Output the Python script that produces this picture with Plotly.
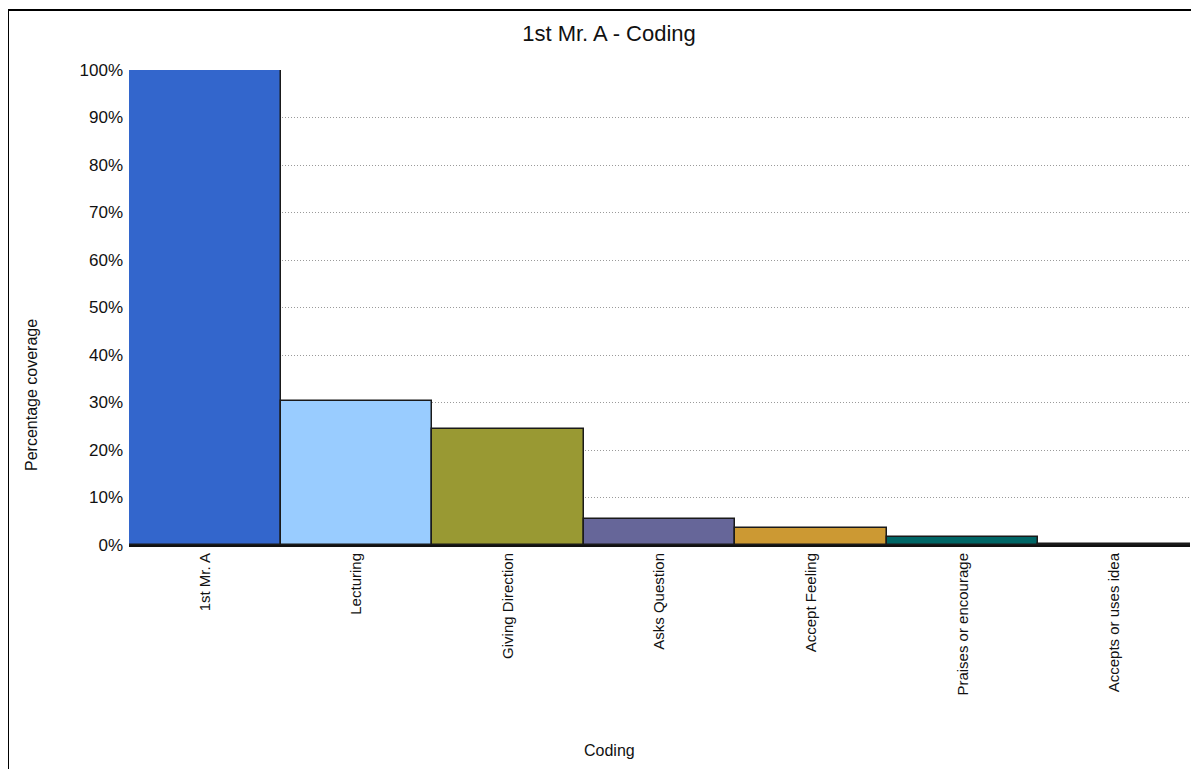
import plotly.graph_objects as go

categories = ["1st Mr. A", "Lecturing", "Giving Direction", "Asks Question",
              "Accept Feeling", "Praises or encourage", "Accepts or uses idea"]
values = [100, 30.4, 24.4, 5.4, 3.5, 1.7, 0.3]
colors = ["#3366CC", "#99CCFF", "#999933", "#666699", "#CC9933", "#006666", "#663300"]
tick_vals = list(range(0, 101, 10))
tick_text = [f"{v}%" for v in tick_vals]

# page body has an 8px margin in the browser
OFF = 8
# desired screen positions of the plot area
SL, SR, ST, SB = 129, 1190, 70, 545
W = SR + 9 - OFF
H = 769 - OFF
L = SL - OFF
T = ST - OFF
R = W - (SR - OFF)
B = H - (SB - OFF)
pw, ph = SR - SL, SB - ST


def px(x):
    return (x - SL) / pw


def py(y):
    return (SB - y) / ph


fig = go.Figure(go.Bar(
    x=categories, y=values,
    marker=dict(color=colors, line=dict(color="#1a1a1a", width=1.5)),
    hoverinfo="x+y",
))

fig.update_layout(
    width=W, height=H,
    margin=dict(l=L, r=R, t=T, b=B),
    paper_bgcolor="white", plot_bgcolor="white",
    bargap=0,
    showlegend=False,
    font=dict(family="Liberation Sans, Arial, sans-serif", color="#222222"),
    title=dict(text="1st Mr. A - Coding", x=(609 - OFF) / W, xanchor="center",
               y=1 - (33 - OFF) / H, yanchor="middle", font=dict(size=22, color="#111111")),
    xaxis=dict(
        tickangle=-90, tickfont=dict(size=15, color="#111111"),
        showline=True, linecolor="#111111", linewidth=2,
        showgrid=False, ticks="", range=[-0.5, 6.5],
    ),
    yaxis=dict(
        range=[0, 100], tickvals=tick_vals, ticktext=tick_text,
        tickfont=dict(size=17, color="#111111"),
        showgrid=True, gridcolor="#9a9a9a", griddash="1px,2px", gridwidth=1,
        zeroline=False, showline=False, ticks="", ticklabelstandoff=5,
    ),
    annotations=[
        dict(text="Coding", x=px(609), y=py(750), xref="paper", yref="paper",
             showarrow=False, font=dict(size=16, color="#111111"),
             xanchor="center", yanchor="middle"),
        dict(text="Percentage coverage", x=px(31), y=py(395), xref="paper", yref="paper",
             showarrow=False, textangle=-90, font=dict(size=16, color="#111111"),
             xanchor="center", yanchor="middle"),
    ],
    shapes=[
        dict(type="rect", xref="paper", yref="paper",
             x0=px(8), x1=px(1220), y0=py(800), y1=py(10),
             line=dict(color="#000000", width=2), fillcolor="rgba(0,0,0,0)", layer="below"),
    ],
)

fig.write_html("out.html")
